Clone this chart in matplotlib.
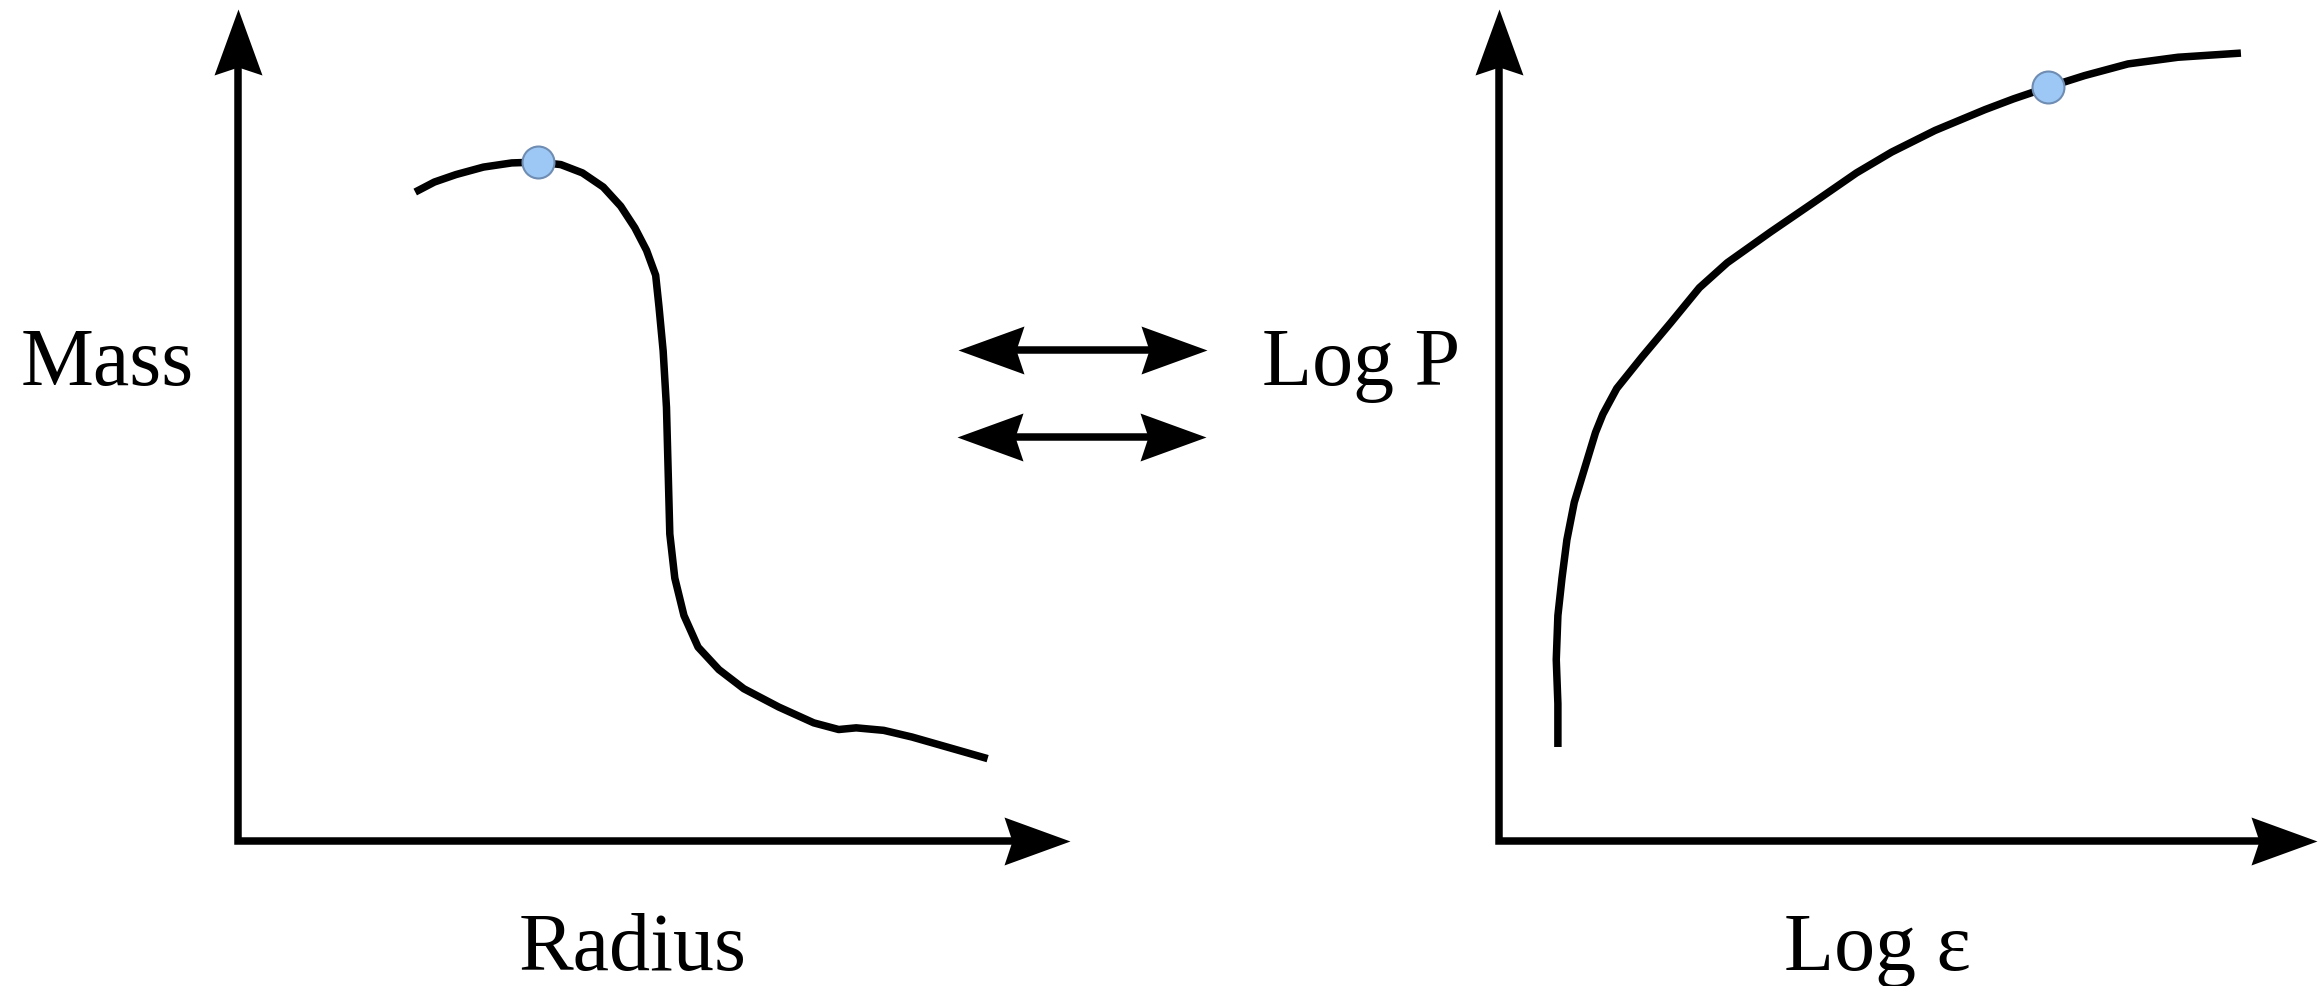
import numpy as np
import matplotlib
matplotlib.use("Agg")
import matplotlib.pyplot as plt
from matplotlib.path import Path
from matplotlib.lines import Line2D

# ---- data (panel units 0..100 along each arrow axis) ----
mass_radius_x = [21.3, 23.6, 26.2, 29.5, 32.9, 36.0, 38.8, 41.4, 43.9, 46.0, 47.7,
                 49.1, 50.2, 50.6, 51.1, 51.5, 51.7, 51.9, 52.5, 53.6, 55.3, 57.8,
                 60.8, 65.0, 69.2, 72.2, 74.3, 77.6, 81.0, 85.2, 90.1]
mass_radius_y = [78.0, 79.2, 80.1, 81.0, 81.5, 81.6, 81.3, 80.3, 78.6, 76.3, 73.7,
                 71.0, 68.0, 64.2, 58.9, 52.1, 44.5, 36.9, 31.6, 27.1, 23.3, 20.6,
                 18.3, 16.1, 14.2, 13.4, 13.6, 13.3, 12.5, 11.3, 9.9]
mass_radius_mark = (36.0, 81.6)

eos_x = [7.2, 7.2, 7.0, 7.2, 7.7, 8.3, 9.2, 10.5, 11.8, 12.7, 14.4, 17.5, 21.0,
         24.5, 27.9, 33.2, 38.4, 43.7, 48.0, 53.3, 59.4, 62.9, 67.1, 71.6, 76.9,
         83.0, 90.7]
eos_y = [11.3, 16.5, 21.8, 27.1, 31.6, 36.2, 40.7, 44.9, 49.1, 51.3, 54.4, 58.2,
         62.3, 66.5, 69.5, 73.2, 76.7, 80.3, 82.8, 85.4, 87.9, 89.2, 90.6, 92.0,
         93.4, 94.2, 94.7]
eos_mark = (67.1, 90.6)

labels_left = ("Radius", "Mass")
labels_right = ("Log \u03b5", "Log P")

# ---- figure ----
W, H, DPI = 2318, 986, 100
fig = plt.figure(figsize=(W / DPI, H / DPI), dpi=DPI)
fig.patch.set_facecolor("white")

LW = 5.4
FONT = dict(family=["Liberation Serif", "DejaVu Serif"], size=59, color="black")
HEAD_L, HEAD_W, NOTCH = 66.0, 24.0, 8.0   # px


def head_marker(angle_deg):
    v = np.array([[0, 0], [-HEAD_L, HEAD_W], [-HEAD_L + NOTCH, 0],
                  [-HEAD_L, -HEAD_W], [0, 0]], dtype=float)
    a = np.deg2rad(angle_deg)
    R = np.array([[np.cos(a), -np.sin(a)], [np.sin(a), np.cos(a)]])
    v = v @ R.T
    return Path(v, [Path.MOVETO, Path.LINETO, Path.LINETO, Path.LINETO, Path.CLOSEPOLY])


MS = 2 * HEAD_L * 72 / DPI


def panel(rect_px, curve_x, curve_y, mark):
    x0, y0, x1, y1 = rect_px  # origin (x0,y0) and tips (x1,y1) in px, y from top
    ax = fig.add_axes([x0 / W, 1 - y0 / H, (x1 - x0) / W, (y0 - y1) / H])
    ax.set_xlim(0, 100)
    ax.set_ylim(0, 100)
    ax.axis("off")
    wpx, hpx = x1 - x0, y0 - y1
    dx = (HEAD_L - NOTCH - 4) / wpx
    dy = (HEAD_L - NOTCH - 4) / hpx
    ax.plot([1 - dx, 0, 0], [0, 0, 1 - dy], transform=ax.transAxes, color="black",
            lw=LW, solid_joinstyle="miter", solid_capstyle="butt", clip_on=False)
    ax.plot([1], [0], transform=ax.transAxes, marker=head_marker(0), ms=MS,
            color="black", mew=0, clip_on=False)
    ax.plot([0], [1], transform=ax.transAxes, marker=head_marker(90), ms=MS,
            color="black", mew=0, clip_on=False)
    ax.plot(curve_x, curve_y, color="black", lw=LW, solid_capstyle="butt",
            solid_joinstyle="round", clip_on=False)
    ax.plot([mark[0]], [mark[1]], marker="o", ms=23, mfc="#9dc8f6", mec="#6f8db2",
            mew=1.5, clip_on=False, zorder=5)
    return ax


panel((238, 841, 1070, 9), mass_radius_x, mass_radius_y, mass_radius_mark)
panel((1499, 841, 2317, 9), eos_x, eos_y, eos_mark)

# labels
fig.text(633 / W, 1 - 970 / H, labels_left[0], ha="center", va="baseline", **FONT)
fig.text(107 / W, 1 - 385 / H, labels_left[1], ha="center", va="baseline", **FONT)
fig.text(1877 / W, 1 - 970 / H, labels_right[0], ha="center", va="baseline", **FONT)
fig.text(1361 / W, 1 - 385 / H, labels_right[1], ha="center", va="baseline", **FONT)

# middle double arrows
for (xa, xb, yy) in [(958, 1207, 350), (957, 1206, 437)]:
    inset = HEAD_L - NOTCH - 4
    fig.add_artist(Line2D([(xa + inset) / W, (xb - inset) / W], [1 - yy / H] * 2,
                          transform=fig.transFigure, color="black", lw=LW,
                          solid_capstyle="butt"))
    fig.add_artist(Line2D([xb / W], [1 - yy / H], transform=fig.transFigure,
                          marker=head_marker(0), ms=MS, color="black", mew=0, ls="none"))
    fig.add_artist(Line2D([xa / W], [1 - yy / H], transform=fig.transFigure,
                          marker=head_marker(180), ms=MS, color="black", mew=0, ls="none"))

fig.savefig("out.png", dpi=DPI, facecolor="white")
